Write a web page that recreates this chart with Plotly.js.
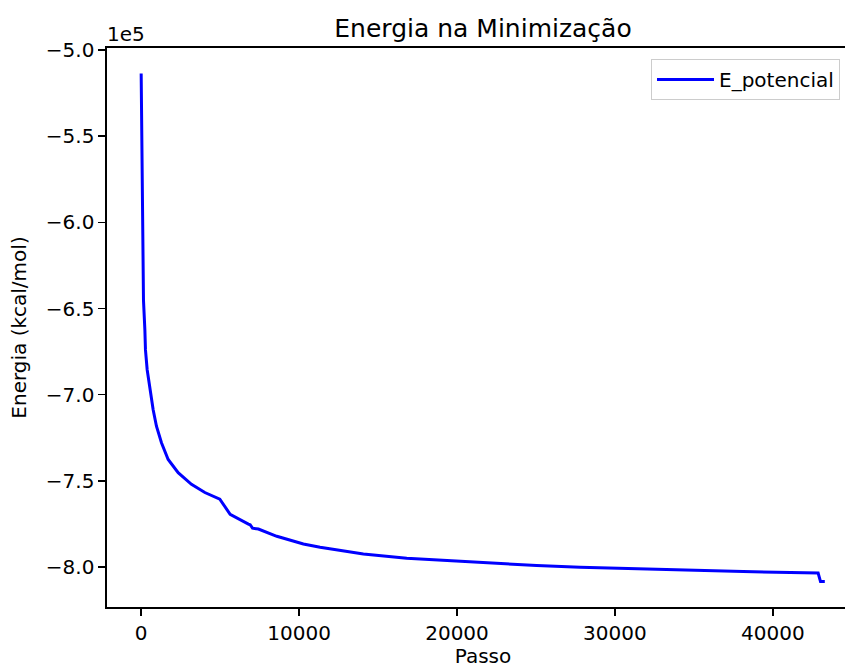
<!DOCTYPE html>
<html>
<head>
<meta charset="utf-8">
<script src="https://cdn.plot.ly/plotly-3.0.1.min.js"></script>
<style>
html, body { margin: 0; padding: 0; overflow: hidden; background: #fff; }
#chart { width: 900px; height: 668px; }
</style>
</head>
<body>
<div id="chart"></div>
<script>
// Data
const passo = [0, 80, 114, 146, 234, 272, 380, 551, 759, 968, 1285, 1709, 2342, 3184, 4032, 4981, 5127, 5633, 6791, 6900, 7050, 7424, 8589, 10272, 11329, 14070, 16816, 19557, 22298, 25044, 27785, 32639, 38120, 42867, 43018, 43290];
const ePotencial = [-513500, -587300, -616200, -645100, -662400, -674000, -685500, -697100, -708700, -718300, -727900, -737600, -745300, -752000, -756800, -760700, -762600, -769400, -775100, -775500, -777500, -778000, -782200, -786700, -788600, -792500, -795000, -796500, -797900, -799200, -800200, -801500, -802700, -803500, -808500, -808500];
const xTicks = [0, 10000, 20000, 30000, 40000];
const yTickVals = [-500000, -550000, -600000, -650000, -700000, -750000, -800000];
const yTickText = ['\u22125.0', '\u22125.5', '\u22126.0', '\u22126.5', '\u22127.0', '\u22127.5', '\u22128.0'];

const font = 'DejaVu Sans, sans-serif';

const trace = {
  x: passo, y: ePotencial, type: 'scatter', mode: 'lines',
  name: 'E_potencial',
  line: { color: '#0000ff', width: 3 }
};

const axisCommon = {
  showgrid: false, zeroline: false, showline: true, linecolor: '#000', linewidth: 1.6,
  mirror: true, ticks: 'outside', ticklen: 7, tickwidth: 1.6, tickcolor: '#000',
  tickfont: { family: font, size: 20, color: '#000' }
};

const layout = {
  width: 900, height: 668,
  margin: { l: 107, r: 41, t: 48, b: 61 },
  paper_bgcolor: '#fff', plot_bgcolor: '#fff',
  font: { family: font, color: '#000' },
  title: { text: 'Energia na Minimização', font: { family: font, size: 25, color: '#000' },
           x: 0.5, xref: 'paper', y: 1 - 28/668, yref: 'container', yanchor: 'middle' },
  xaxis: Object.assign({}, axisCommon, {
    range: [-2164, 45455], tickvals: xTicks, tickformat: 'd',
    title: { text: 'Passo', font: { family: font, size: 20, color: '#000' }, standoff: 6 }
  }),
  yaxis: Object.assign({}, axisCommon, {
    range: [-823250, -498750], tickvals: yTickVals, ticktext: yTickText,
    title: { text: 'Energia (kcal/mol)', font: { family: font, size: 20, color: '#000' }, standoff: 14 }
  }),
  showlegend: true,
  legend: {
    x: (651 - 107) / 752, xanchor: 'left', y: (607 - 59) / 559, yanchor: 'top',
    bgcolor: 'rgba(255,255,255,0.8)', bordercolor: '#cccccc', borderwidth: 1,
    itemwidth: 57,
    font: { family: font, size: 20, color: '#000' }
  },
  annotations: [{
    text: '1e5', xref: 'paper', yref: 'paper', x: 0, y: 1, xanchor: 'left', yanchor: 'bottom',
    showarrow: false, font: { family: font, size: 20, color: '#000' }, xshift: -2, yshift: 0
  }]
};

Plotly.newPlot('chart', [trace], layout, { displayModeBar: false, staticPlot: true });
</script>
</body>
</html>
